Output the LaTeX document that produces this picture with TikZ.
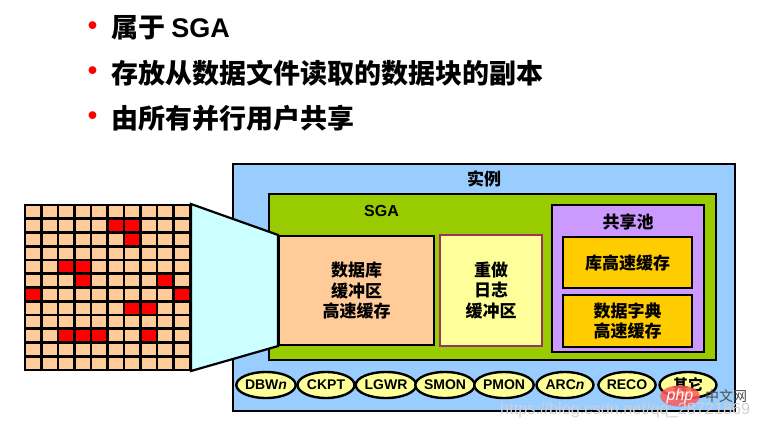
\documentclass[tikz,border=0pt]{standalone}
\usepackage{fontspec}
\setmainfont{Liberation Sans}
\newfontfamily\cjk{Noto Sans CJK SC}
\usetikzlibrary{shapes.geometric}
\definecolor{instblue}{HTML}{99CCFF}
\definecolor{sgagreen}{HTML}{99CC00}
\definecolor{bufpeach}{HTML}{FFCC99}
\definecolor{redoyellow}{HTML}{FFFF99}
\definecolor{redoedge}{HTML}{993366}
\definecolor{poolpurple}{HTML}{CC99FF}
\definecolor{cacheorange}{HTML}{FFCC00}
\definecolor{funnelcyan}{HTML}{CCFFFF}
\tikzset{
  box/.style={draw=black,line width=2.2pt,inner sep=0pt,align=center,font=\cjk\bfseries\fontsize{17}{20.8}\selectfont},
  proc/.style={ellipse,draw=black,line width=2.4pt,fill=redoyellow,inner sep=0pt,
    minimum width=57pt,minimum height=26pt,font=\bfseries\fontsize{14}{16}\selectfont},
  cell/.style={fill=bufpeach,inner sep=0pt,minimum width=14pt,minimum height=11pt},
  hotcell/.style={cell,fill=red},
  bullet/.style={text=red,font=\bfseries\fontsize{27}{27}\selectfont,inner sep=0pt},
  point/.style={anchor=west,inner sep=0pt,font=\cjk\bfseries\fontsize{27}{27}\selectfont},
  title/.style={inner sep=0pt,font=\cjk\bfseries\fontsize{17}{19}\selectfont}
}
\begin{document}
\begin{tikzpicture}[x=1pt,y=-1pt]
  \useasboundingbox (0,0) rectangle (758,429);

  % bullet list
  \node[bullet] (b1) at (92.5,28) {•};
  \node[bullet] (b2) at (92.5,73) {•};
  \node[bullet] (b3) at (92.5,118) {•};
  \node[point] (t1) at (111,28) {属于 {\normalfont\bfseries SGA}};
  \node[point] (t2) at (111,73) {存放从数据文件读取的数据块的副本};
  \node[point] (t3) at (111,118) {由所有并行用户共享};

  % instance
  \node[box,fill=instblue,minimum width=502pt,minimum height=247pt] (inst) at (484,287.5) {};
  \node[title] (instlabel) at (484,179) {实例};
  \node[box,fill=sgagreen,minimum width=447pt,minimum height=166pt] (sga) at (492.5,277) {};
  \node[inner sep=0pt,font=\bfseries\fontsize{16}{18}\selectfont] (sgalabel) at (381.5,211) {SGA};

  % data file blocks
  \node[draw=black,fill=black,line width=2pt,inner sep=0pt,minimum width=165pt,minimum height=165pt] (blocks) at (107.5,287.5) {};
  \foreach \row in {0,...,11}
    \foreach \col in {0,...,9}
      \node[cell] (c\col-\row) at (33.25+16.5*\col,211.875+13.75*\row) {};
  \foreach \col/\row in {5/1,6/1,6/2,2/4,3/4,3/5,8/5,0/6,9/6,6/7,7/7,2/9,3/9,4/9,7/9}
    \node[hotcell] (h\col-\row) at (33.25+16.5*\col,211.875+13.75*\row) {};

  % caches
  \node[box,fill=bufpeach,minimum width=155pt,minimum height=109pt] (dbcache) at (356.5,290.5)
    {数据库\\缓冲区\\高速缓存};
  \node[box,draw=redoedge,fill=redoyellow,minimum width=102pt,minimum height=111pt] (redo) at (491,290.5)
    {重做\\日志\\缓冲区};
  \node[box,fill=poolpurple,minimum width=152pt,minimum height=147pt] (pool) at (628,278.5) {};
  \node[title] (poollabel) at (628,222) {共享池};
  \node[box,fill=cacheorange,minimum width=129pt,minimum height=51pt] (libcache) at (627.5,262.5) {库高速缓存};
  \node[box,fill=cacheorange,minimum width=129pt,minimum height=52pt] (dict) at (627.5,321) {数据字典\\高速缓存};

  % zoom funnel
  \draw[line width=2.2pt,fill=funnelcyan] (blocks.north east) -- (dbcache.north west)
    -- (dbcache.south west) -- (blocks.south east) -- cycle;

  % background processes
  \node[proc] (p1) at (266,385) {DBW\textit{n}};
  \node[proc] (p2) at (326,385) {CKPT};
  \node[proc] (p3) at (386,385) {LGWR};
  \node[proc] (p4) at (445,385) {SMON};
  \node[proc] (p5) at (504,385) {PMON};
  \node[proc] (p6) at (565,385) {ARC\textit{n}};
  \node[proc] (p7) at (627,385) {RECO};
  \node[proc,font=\cjk\bfseries\fontsize{15}{17}\selectfont] (p8) at (688,385) {其它};

  % watermark
  \node[ellipse,fill=red!65!white,opacity=.85,text=white,text opacity=1,inner sep=0pt,minimum width=40pt,minimum height=20pt,
    font=\itshape\fontsize{16}{18}\selectfont] (wmlogo) at (680,396) {php};
  \node[inner sep=0pt,text=black!70,font=\cjk\fontsize{14}{16}\selectfont] (wmname) at (726,396) {中文网};
  \node[inner sep=0pt,text=black!18,anchor=west,font=\fontsize{16.3}{18}\selectfont] (wmurl) at (500,410) {https://blog.csdn.net/qq\_28721869};
\end{tikzpicture}
\end{document}
